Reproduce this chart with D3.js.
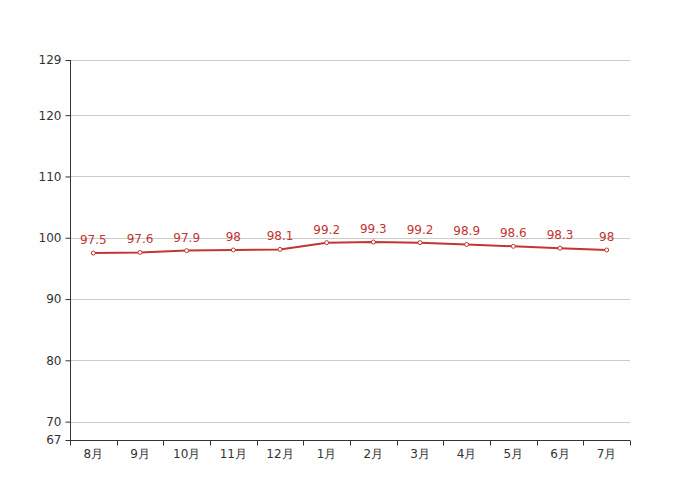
<!DOCTYPE html>
<html><head><meta charset="utf-8">
<script src="https://cdn.jsdelivr.net/npm/d3@7"></script>
<style>body{margin:0;background:#fff}svg{display:block}text{font-family:"DejaVu Sans",sans-serif}</style>
</head><body>
<svg id="c" width="700" height="500"></svg>
<script>
const categories = ["8月","9月","10月","11月","12月","1月","2月","3月","4月","5月","6月","7月"];
const values = [97.5,97.6,97.9,98,98.1,99.2,99.3,99.2,98.9,98.6,98.3,98];
const yTicks = [67,70,80,90,100,110,120,129];
(function(){
const color = "#c23531";
const svg = d3.select("#c");
const pL=70,pR=630,pT=60,pB=440;
const x = d3.scaleBand().domain(categories).range([pL,pR]);
const y = d3.scaleLinear().domain([67,129]).range([pB,pT]);
// grid
svg.append("g").selectAll("line").data(yTicks.filter(d=>d!==67)).join("line")
  .attr("x1",pL).attr("x2",pR).attr("y1",d=>Math.round(y(d))+0.5).attr("y2",d=>Math.round(y(d))+0.5)
  .attr("stroke","#ccc").attr("stroke-width",1);
// y axis
const ya = svg.append("g").attr("transform",`translate(${pL+0.5},0)`)
  .call(d3.axisLeft(y).tickValues(yTicks).tickSize(5).tickPadding(4).tickFormat(d3.format("d")));
ya.select(".domain").attr("stroke","#333").attr("d",`M0,${pT}V${pB}`);
ya.selectAll(".tick line").attr("stroke","#333");
ya.selectAll("text").attr("fill","#333").attr("font-size",12);
// x axis
const xa = svg.append("g").attr("transform",`translate(0,${pB+0.5})`)
  .call(d3.axisBottom(x).tickSize(0).tickPadding(9));
xa.select(".domain").attr("stroke","#333").attr("d",`M${pL},0H${pR}`);
xa.selectAll("text").attr("fill","#333").attr("font-size",12);
const bounds = categories.map(c=>x(c)).concat([pR]);
xa.selectAll(".bt").data(bounds).join("line").attr("class","bt")
  .attr("x1",d=>Math.round(d)+0.5).attr("x2",d=>Math.round(d)+0.5).attr("y1",0).attr("y2",5).attr("stroke","#333");
const cx = d=>x(d)+x.bandwidth()/2;
const line = d3.line().x((d,i)=>cx(categories[i])).y(d=>y(d));
svg.append("path").datum(values).attr("d",line).attr("fill","none").attr("stroke",color).attr("stroke-width",2);
svg.append("g").selectAll("circle").data(values).join("circle")
  .attr("cx",(d,i)=>cx(categories[i])).attr("cy",d=>y(d)).attr("r",2)
  .attr("fill","#fff").attr("stroke",color).attr("stroke-width",1);
svg.append("g").selectAll("text").data(values).join("text")
  .attr("x",(d,i)=>cx(categories[i])).attr("y",d=>y(d)-9)
  .attr("text-anchor","middle").attr("fill",color).attr("font-size",12).text(d=>d);
})();
</script>
</body></html>
